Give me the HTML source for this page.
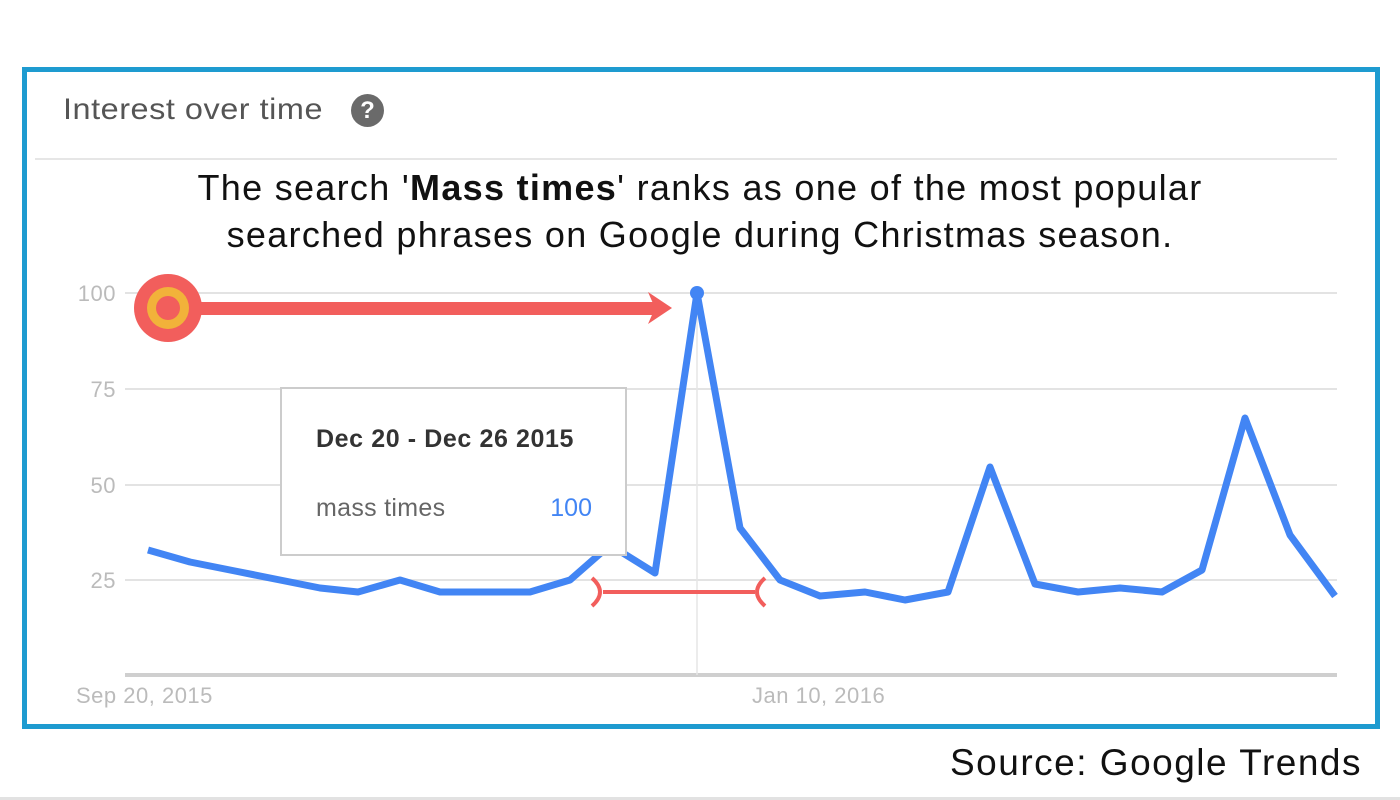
<!DOCTYPE html>
<html><head><meta charset="utf-8"><style>
body{margin:0;width:1400px;height:800px;background:#fff;overflow:hidden;font-family:"Liberation Sans",sans-serif;position:relative}
.abs{position:absolute}
</style></head><body>
<div class="abs" style="left:22px;top:67px;width:1348px;height:652px;border:5px solid #1e9bd0"></div>
<div class="abs" style="left:63px;top:93px;font-size:30px;color:#555;letter-spacing:0.5px;transform:scaleX(1.08);transform-origin:left">Interest over time</div>
<div class="abs" style="left:351px;top:94px;width:33px;height:33px;border-radius:50%;background:#6a6a6a;color:#fff;font-size:24px;font-weight:bold;text-align:center;line-height:33px">?</div>
<div class="abs" style="left:35px;top:158px;width:1302px;height:2px;background:#e6e6e6"></div>
<div class="abs" style="left:50px;top:164px;width:1300px;text-align:center;font-size:36px;line-height:47px;color:#111;letter-spacing:1.3px">The search '<b>Mass times</b>' ranks as one of the most popular<br>searched phrases on Google during Christmas season.</div>
<svg class="abs" style="left:0;top:0" width="1400" height="800">
<g stroke="#e3e3e3" stroke-width="2">
<line x1="125" y1="293" x2="1337" y2="293"/><line x1="125" y1="389" x2="1337" y2="389"/>
<line x1="125" y1="485" x2="1337" y2="485"/><line x1="125" y1="580" x2="1337" y2="580"/>
</g>
<line x1="125" y1="675" x2="1337" y2="675" stroke="#cfcfcf" stroke-width="4"/>
<line x1="697" y1="293" x2="697" y2="675" stroke="#e6e6e6" stroke-width="1.5"/>
<g font-size="22" fill="#bbb" font-family="Liberation Sans" letter-spacing="0.5">
<text x="116" y="301" text-anchor="end">100</text><text x="116" y="397" text-anchor="end">75</text>
<text x="116" y="493" text-anchor="end">50</text><text x="116" y="588" text-anchor="end">25</text>
<text x="76" y="703">Sep 20, 2015</text><text x="752" y="703">Jan 10, 2016</text>
</g>
<polyline fill="none" stroke="#4285f4" stroke-width="7" stroke-linejoin="round" points="148,550 190,562 235,571 280,580 320,588 358,592 400,580 440,592 485,592 530,592 570,580 610,545 655,573 697,293 740,528 780,580 820,596 865,592 905,600 948,592 990,467 1035,584 1078,592 1120,588 1162,592 1202,570 1245,418 1290,535 1335,596"/>
<circle cx="697" cy="293" r="7" fill="#4285f4"/>
<rect x="281" y="388" width="345" height="167" fill="#fff" stroke="#ccc" stroke-width="2"/>
<text x="316" y="447" font-size="25" font-weight="bold" fill="#333" font-family="Liberation Sans" letter-spacing="0.6">Dec 20 - Dec 26 2015</text>
<text x="316" y="516" font-size="25" fill="#666" font-family="Liberation Sans" letter-spacing="0.3">mass times</text>
<text x="592" y="516" font-size="25" fill="#4285f4" text-anchor="end" font-family="Liberation Sans">100</text>
<circle cx="168" cy="308" r="34" fill="#f25e5c"/>
<circle cx="168" cy="308" r="21" fill="#f2b23a"/>
<circle cx="168" cy="308" r="12" fill="#f25e5c"/>
<rect x="195" y="302" width="460" height="13" fill="#f25e5c"/>
<polygon points="648,292 672,308 648,324 655,308" fill="#f25e5c"/>
<line x1="603" y1="592" x2="755" y2="592" stroke="#f25e5c" stroke-width="4"/>
<path d="M592,578 Q608,592 592,606" fill="none" stroke="#f25e5c" stroke-width="4"/>
<path d="M765,578 Q749,592 765,606" fill="none" stroke="#f25e5c" stroke-width="4"/>
</svg>
<div class="abs" style="right:38px;top:742px;font-size:37px;color:#111;letter-spacing:1.5px">Source: Google Trends</div>
<div class="abs" style="left:0;top:797px;width:1400px;height:3px;background:#e2e2e2"></div>
</body></html>
